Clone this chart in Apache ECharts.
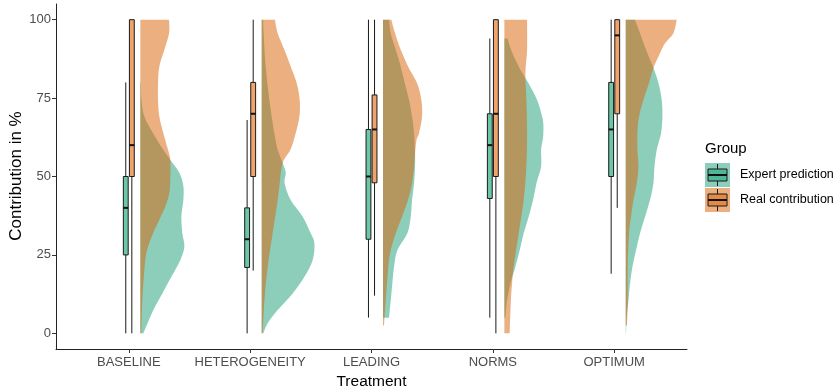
<!DOCTYPE html>
<html><head><meta charset="utf-8">
<script src="https://cdn.jsdelivr.net/npm/echarts@6/dist/echarts.min.js"></script>
<style>html,body{margin:0;padding:0;background:#fff}#c{width:838px;height:390px}</style>
</head><body><div id="c"></div>
<script>
// ---------- DATA ----------
const treatments = ['BASELINE', 'HETEROGENEITY', 'LEADING', 'NORMS', 'OPTIMUM'];
const groups = ['Expert prediction', 'Real contribution'];
const yTicks = [0, 25, 50, 75, 100];
// box statistics per treatment: [min, q1, median, q3, max]
const expertBox = [[0, 25, 40, 50, 80], [0, 21, 30, 40, 68], [5, 30, 50, 65, 100], [5, 43, 60, 70, 94], [19, 50, 65, 80, 100]];
const realBox = [[0, 50, 60, 100, 100], [20, 50, 70, 80, 100], [12, 48, 65, 76, 100], [0, 50, 70, 100, 100], [40, 70, 95, 100, 100]];
// half-violin density profiles per treatment: [value, density]
const expertDensity = [
  [[0,3],[7.4,13],[12.7,22],[18,31],[23.4,40],[27.6,44],[31.9,42],[37.2,41],[42.5,43],[47,43],[51.2,39],[55.3,30],[58.5,23],[63.8,12.7],[69.1,4],[74.4,1.2],[80,0.5]],
  [[0,1.7],[3.2,6],[7.4,16],[12.7,31],[18,42.7],[23.4,51],[28.7,52.7],[31.9,49],[37.2,41],[42.5,29],[47.8,23],[51.2,24],[54.3,21],[58.5,16],[63.8,12.7],[74.4,7.7],[85.1,4],[95.7,2],[100,1.5]],
  [[5,6],[10.5,7.7],[15.9,9.3],[21.2,11],[26.5,14.3],[31.9,24.3],[37.2,27.7],[42.5,29],[47.8,31],[53.1,32],[57.4,32],[63.8,31],[69.1,29],[74.4,26],[79.8,21.7],[85.1,17.7],[90.4,12.7],[95.7,7.7],[100,6]],
  [[5,1],[10.5,2.7],[15.9,6],[21.2,11],[26.5,15.3],[31.9,19.3],[37.2,24.3],[42.5,28.7],[47.8,32],[53.1,36.7],[58.5,36.7],[62.5,38.7],[66.5,39],[69.1,37.7],[74.4,32.7],[79.8,24],[85.1,14.3],[90.4,6.7],[94,3.3]],
  [[0,0.3],[5.2,1],[10.5,2.7],[15.9,4.3],[21.2,6.7],[26.5,10.3],[31.9,14.3],[37.2,19.3],[42.5,24.3],[47.8,27.7],[53.1,28.7],[58.5,31],[63.8,35.3],[69.1,36.7],[74.4,36],[79.8,32.7],[84.6,27.7],[90.4,20.3],[95.7,14.3],[100,9.3]]
];
const realDensity = [
  [[0,1],[10.5,2],[21.2,4.3],[26.5,6.7],[31.9,12.7],[36.2,19],[40.4,25],[44.7,29],[50,30],[55.3,30],[58.5,27.7],[63.8,23],[69.1,19],[74.4,17.7],[79.8,17.7],[85.1,19],[90.4,24],[95.7,28.7],[100,28.7]],
  [[0,1],[10.5,2.7],[21.2,6],[31.9,11],[37.2,13.5],[42.5,16],[47.8,18],[54.3,21],[58.5,28.7],[63.8,34],[69.1,37.7],[74.4,38],[79.8,35],[85.1,29],[90.4,22.7],[95.7,16],[100,13.3]],
  [[2.5,1],[10.5,2.7],[21.2,5.3],[26.5,7.7],[31.9,12.7],[37.2,19],[42.5,25],[47.8,29],[53.1,31],[57.4,32],[61.7,33.5],[63.8,36],[69.1,39],[74.4,38.3],[79.8,34],[85.1,25],[90.4,17.7],[95.7,12],[100,8.3]],
  [[0,5.3],[10.5,6.5],[15.9,7.7],[21.2,9.3],[31.9,14.3],[42.5,19.3],[53.1,22],[63.8,22.7],[74.4,22],[82.9,21],[90.4,22.7],[100,22.7]],
  [[2.5,1.3],[10.5,2],[21.2,2],[31.9,3.3],[37.2,5.3],[42.5,7.7],[47.8,11],[53.1,12.7],[58.5,11.7],[63.8,11.7],[69.1,13.3],[74.4,17.7],[79.8,23.3],[84.6,27.7],[88.3,32.7],[92.5,39.3],[95.7,47.7],[100,51]]
];

// ---------- STYLE ----------
const FONT = '"Liberation Sans", Arial, sans-serif';
const violinFill = ['rgba(27,158,119,0.5)', 'rgba(217,95,2,0.5)'];
const boxFill = ['#6cc7a7', '#efa46c'];
const legendBoxFill = ['#4fb797', '#e58a45'];
const boxOffset = [-0.025, 0.025];
const boxHalfW = 0.02;
const violinNudge = 0.095;
const violinScale = 1 / 121.3;

const chart = echarts.init(document.getElementById('c'), null, { renderer: 'canvas' });

// smooth (Catmull-Rom) path through pixel points, closed along the flat base
function smoothPath(pts, baseTop, baseBot) {
  let d = 'M' + baseBot[0] + ' ' + baseBot[1] + ' L' + pts[0][0] + ' ' + pts[0][1];
  for (let i = 0; i < pts.length - 1; i++) {
    const p0 = pts[Math.max(i - 1, 0)], p1 = pts[i], p2 = pts[i + 1], p3 = pts[Math.min(i + 2, pts.length - 1)];
    const c1 = [p1[0] + (p2[0] - p0[0]) / 6, p1[1] + (p2[1] - p0[1]) / 6];
    const c2 = [p2[0] - (p3[0] - p1[0]) / 6, p2[1] - (p3[1] - p1[1]) / 6];
    d += ' C' + c1[0] + ' ' + c1[1] + ' ' + c2[0] + ' ' + c2[1] + ' ' + p2[0] + ' ' + p2[1];
  }
  d += ' L' + baseTop[0] + ' ' + baseTop[1] + ' Z';
  return d;
}

function violinSeries(g, dens) {
  return {
    type: 'custom', name: groups[g], z: 2 + g,
    data: treatments.map((t, i) => [i + 1, i]),
    encode: { x: 0, y: 1 },
    renderItem: function (params, api) {
      const x = api.value(0), idx = api.value(1);
      const prof = dens[idx];
      const x0 = x + violinNudge;
      const pts = prof.map(p => api.coord([x0 + p[1] * violinScale, p[0]]));
      const baseBot = api.coord([x0, prof[0][0]]);
      const baseTop = api.coord([x0, prof[prof.length - 1][0]]);
      return { type: 'path', shape: { pathData: smoothPath(pts, baseTop, baseBot) }, style: { fill: violinFill[g], stroke: null } };
    }
  };
}

function boxSeries(g, stats) {
  return {
    type: 'custom', name: groups[g] + ' box', z: 10,
    data: stats.map((b, i) => [i + 1].concat(b)),
    encode: { x: 0, y: [1, 2, 3, 4, 5] },
    renderItem: function (params, api) {
      const cx = api.value(0) + boxOffset[g];
      const mn = api.value(1), q1 = api.value(2), md = api.value(3), q3 = api.value(4), mx = api.value(5);
      const pTop = api.coord([cx - boxHalfW, q3]);
      const pBot = api.coord([cx + boxHalfW, q1]);
      const c = api.coord([cx, md]);
      const wMin = api.coord([cx, mn]), wMax = api.coord([cx, mx]);
      const lineSt = { stroke: '#1a1a1a', lineWidth: 1 };
      return {
        type: 'group',
        children: [
          { type: 'line', shape: { x1: c[0], y1: wMax[1], x2: c[0], y2: pTop[1] }, style: lineSt },
          { type: 'line', shape: { x1: c[0], y1: pBot[1], x2: c[0], y2: wMin[1] }, style: lineSt },
          { type: 'rect', shape: { x: pTop[0], y: pTop[1], width: pBot[0] - pTop[0], height: pBot[1] - pTop[1] },
            style: { fill: boxFill[g], stroke: '#1a1a1a', lineWidth: 1 } },
          { type: 'line', shape: { x1: pTop[0], y1: c[1], x2: pBot[0], y2: c[1] }, style: { stroke: '#111', lineWidth: 2 } }
        ]
      };
    }
  };
}

function legendKey(g, top) {
  const l = 705, w = 25, h = 24;
  const cx = l + w / 2;
  return {
    type: 'group', children: [
      { type: 'rect', shape: { x: l, y: top, width: w, height: h }, style: { fill: violinFill[g] } },
      { type: 'line', shape: { x1: cx, y1: top + 1, x2: cx, y2: top + h - 1 }, style: { stroke: '#1a1a1a', lineWidth: 1 } },
      { type: 'rect', shape: { x: l + 3, y: top + 6, width: w - 6, height: h - 12 }, style: { fill: legendBoxFill[g], stroke: '#1a1a1a', lineWidth: 1 } },
      { type: 'line', shape: { x1: l + 3, y1: top + h / 2, x2: l + w - 3, y2: top + h / 2 }, style: { stroke: '#111', lineWidth: 2 } },
      { type: 'text', x: 740, y: top + h / 2, style: { text: groups[g], font: '12.5px ' + FONT, fill: '#000', verticalAlign: 'middle' } }
    ]
  };
}

const option = {
  backgroundColor: '#fff',
  animation: false,
  grid: { left: 56, right: 151, top: 4, bottom: 41, containLabel: false, outerBoundsMode: 'none' },
  xAxis: {
    type: 'value', min: 0.4, max: 5.6,
    name: 'Treatment', nameLocation: 'middle', nameGap: 24,
    nameTextStyle: { color: '#000', fontSize: 15.5, fontFamily: FONT },
    axisLine: { show: true, onZero: false, lineStyle: { color: '#222', width: 1 } },
    axisTick: { show: true, length: 4, lineStyle: { color: '#333' }, customValues: [1, 2, 3, 4, 5] },
    axisLabel: { customValues: [1, 2, 3, 4, 5], formatter: v => treatments[Math.round(v) - 1] || '', color: '#4d4d4d', fontSize: 13, margin: 7, fontFamily: FONT },
    splitLine: { show: false }
  },
  yAxis: {
    type: 'value', min: -5, max: 105,
    axisLine: { show: true, onZero: false, lineStyle: { color: '#222', width: 1 } },
    axisTick: { show: true, length: 4, lineStyle: { color: '#333' }, customValues: yTicks },
    axisLabel: { customValues: yTicks, color: '#4d4d4d', fontSize: 13, margin: 5, fontFamily: FONT },
    splitLine: { show: false }
  },
  graphic: [
    { type: 'text', x: 16, y: 176, rotation: Math.PI / 2, style: { text: 'Contribution in %', font: '17px ' + FONT, fill: '#000', align: 'center', verticalAlign: 'middle' } },
    { type: 'text', x: 705, y: 149, style: { text: 'Group', font: '15px ' + FONT, fill: '#000', verticalAlign: 'middle' } },
    legendKey(0, 163),
    legendKey(1, 188)
  ],
  series: [
    violinSeries(0, expertDensity),
    violinSeries(1, realDensity),
    boxSeries(0, expertBox),
    boxSeries(1, realBox)
  ]
};
chart.setOption(option);
</script>
</body></html>
